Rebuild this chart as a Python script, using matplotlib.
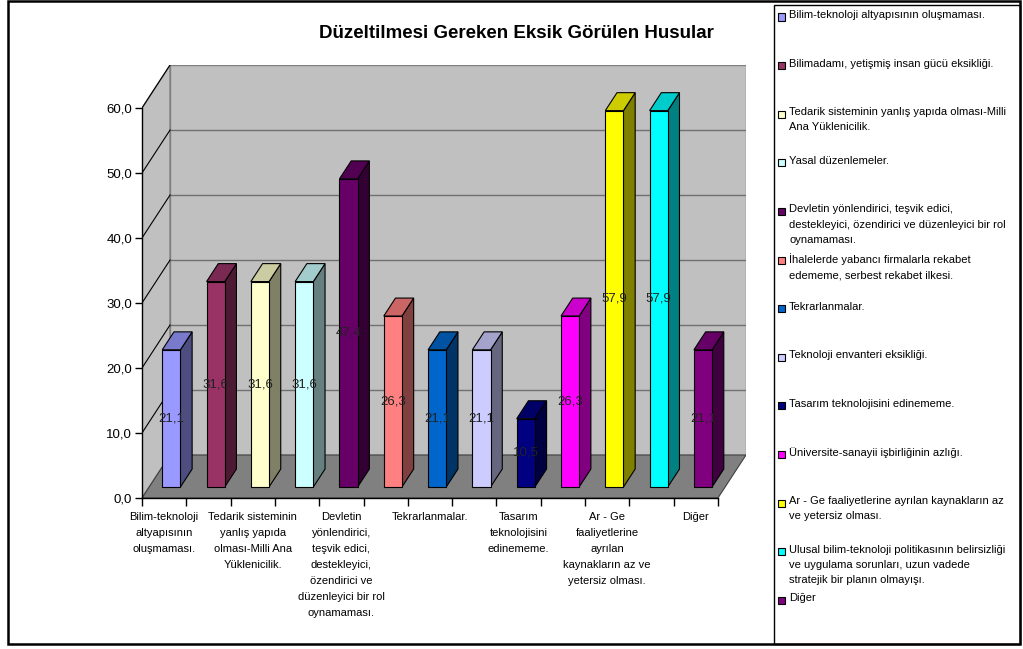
import numpy as np
import matplotlib
matplotlib.use('Agg')
import matplotlib.pyplot as plt
from matplotlib.patches import Polygon, Rectangle
from matplotlib.colors import to_rgb

plt.rcParams['font.family'] = ['Liberation Sans', 'DejaVu Sans']

title = 'Düzeltilmesi Gereken Eksik Görülen Husular'

legend_names = [
    'Bilim-teknoloji altyapısının oluşmaması.',
    'Bilimadamı, yetişmiş insan gücü eksikliği.',
    'Tedarik sisteminin yanlış yapıda olması-Milli\nAna Yüklenicilik.',
    'Yasal düzenlemeler.',
    'Devletin yönlendirici, teşvik edici,\ndestekleyici, özendirici ve düzenleyici bir rol\noynamaması.',
    'İhalelerde yabancı firmalarla rekabet\nedememe, serbest rekabet ilkesi.',
    'Tekrarlanmalar.',
    'Teknoloji envanteri eksikliği.',
    'Tasarım teknolojisini edinememe.',
    'Üniversite-sanayii işbirliğinin azlığı.',
    'Ar - Ge faaliyetlerine ayrılan kaynakların az\nve yetersiz olması.',
    'Ulusal bilim-teknoloji politikasının belirsizliği\nve uygulama sorunları, uzun vadede\nstratejik bir planın olmayışı.',
    'Diğer',
]

values = [21.1, 31.6, 31.6, 31.6, 47.4, 26.3, 21.1, 21.1, 10.5, 26.3, 57.9, 57.9, 21.1]

colors = ['#9999FF', '#993366', '#FFFFCC', '#CCFFFF', '#660066', '#FF8080', '#0066CC',
          '#CCCCFF', '#000080', '#FF00FF', '#FFFF00', '#00FFFF', '#800080']

# category labels shown under the axis (every other category)
xtick_pos = [0.5, 2.5, 4.5, 6.5, 8.5, 10.5, 12.5]
xtick_labels = [
    'Bilim-teknoloji\naltyapısının\noluşmaması.',
    'Tedarik sisteminin\nyanlış yapıda\nolması-Milli Ana\nYüklenicilik.',
    'Devletin\nyönlendirici,\nteşvik edici,\ndestekleyici,\nözendirici ve\ndüzenleyici bir rol\noynamaması.',
    'Tekrarlanmalar.',
    'Tasarım\nteknolojisini\nedinememe.',
    'Ar - Ge\nfaaliyetlerine\nayrılan\nkaynakların az ve\nyetersiz olması.',
    'Diğer',
]

yticks = [0, 10, 20, 30, 40, 50, 60]


def shade(c, f):
    r, g, b = to_rgb(c)
    return (r * f, g * f, b * f)


W, H = 1023, 649
fig = plt.figure(figsize=(W / 100, H / 100), dpi=100)

n = len(values)
dx = 28 / 44.23   # depth offset in category units
dy = 43 / 6.5     # depth offset in value units
ymax = 60

ax = fig.add_axes([142 / W, 1 - 498 / H, (746 - 142) / W, (498 - 65) / H])
ax.set_xlim(0, n + dx)
ax.set_ylim(0, ymax + dy)
ax.patch.set_visible(False)


def P(x, v, z):
    return (x + z * dx, v + z * dy)


# walls and floor
ax.add_patch(Polygon([P(0, 0, 0), P(0, ymax, 0), P(0, ymax, 1), P(0, 0, 1)],
                     closed=True, fc='#C0C0C0', ec='#808080', lw=1, zorder=0))
ax.add_patch(Polygon([P(0, 0, 1), P(0, ymax, 1), P(n, ymax, 1), P(n, 0, 1)],
                     closed=True, fc='#C0C0C0', ec='#808080', lw=1, zorder=0))
ax.add_patch(Polygon([P(0, 0, 0), P(n, 0, 0), P(n, 0, 1), P(0, 0, 1)],
                     closed=True, fc='#808080', ec='#404040', lw=0.8, zorder=0.5))

for v in yticks[1:-1]:
    a, b = P(0, v, 1), P(n, v, 1)
    ax.plot([a[0], b[0]], [a[1], b[1]], color='#707070', lw=1, zorder=0.2)
for v in yticks[1:]:
    a, b = P(0, v, 0), P(0, v, 1)
    ax.plot([a[0], b[0]], [a[1], b[1]], color='black', lw=0.8, zorder=0.2)

# bars
z0, z1 = 0.256, 0.674
bw = 0.41
for i, (v, c) in enumerate(zip(values, colors)):
    x0 = i + (1 - bw) / 2
    x1 = x0 + bw
    front = [P(x0, 0, z0), P(x1, 0, z0), P(x1, v, z0), P(x0, v, z0)]
    side = [P(x1, 0, z0), P(x1, 0, z1), P(x1, v, z1), P(x1, v, z0)]
    top = [P(x0, v, z0), P(x1, v, z0), P(x1, v, z1), P(x0, v, z1)]
    ax.add_patch(Polygon(side, closed=True, fc=shade(c, 0.5), ec='black', lw=0.8, zorder=3))
    ax.add_patch(Polygon(top, closed=True, fc=shade(c, 0.8), ec='black', lw=0.8, zorder=3))
    ax.add_patch(Polygon(front, closed=True, fc=c, ec='black', lw=0.8, zorder=3))
    lx, ly = P((x0 + x1) / 2, v / 2, z0)
    ax.text(lx, ly, f'{v:.1f}'.replace('.', ','), ha='center', va='center',
            fontsize=9.5, color='#222222', zorder=4)

# axes
for s in ['top', 'right']:
    ax.spines[s].set_visible(False)
ax.spines['left'].set_bounds(0, ymax)
ax.spines['bottom'].set_bounds(0, n)
ax.spines['left'].set_linewidth(1)
ax.spines['bottom'].set_linewidth(1)
ax.set_yticks(yticks)
ax.set_yticklabels([f'{v:.1f}'.replace('.', ',') for v in yticks], fontsize=9.5)
ax.tick_params(axis='y', direction='out', length=5, width=1, pad=2)
ax.set_xticks(range(n + 1))
ax.set_xticklabels([])
ax.tick_params(axis='x', which='major', direction='out', length=6, width=1)
ax.set_xticks(xtick_pos, minor=True)
ax.set_xticklabels(xtick_labels, minor=True, fontsize=8, linespacing=1.76)
ax.tick_params(axis='x', which='minor', length=0, pad=10)

fig.text(516 / W, 1 - 33 / H, title, ha='center', va='center',
         fontsize=13.5, fontweight='bold')

# frames
fig.patches.append(Rectangle((8 / W, 1 - 644 / H), (1020 - 8) / W, (644 - 1) / H,
                             transform=fig.transFigure, fill=False, ec='black', lw=1.8))
fig.patches.append(Rectangle((774 / W, 1 - 644 / H), (1020 - 774) / W, (644 - 5) / H,
                             transform=fig.transFigure, fill=False, ec='black', lw=1))

# legend
for k, (name, c) in enumerate(zip(legend_names, colors)):
    yk = 17 + 48.6 * k
    fig.patches.append(Rectangle((778 / W, 1 - (yk + 3.5) / H), 7 / W, 7 / H,
                                 transform=fig.transFigure, fc=c, ec='black', lw=0.8))
    fig.text(789 / W, 1 - (yk - 7) / H, name, ha='left', va='top',
             fontsize=8, linespacing=1.65)

fig.savefig('out.png', dpi=100)
